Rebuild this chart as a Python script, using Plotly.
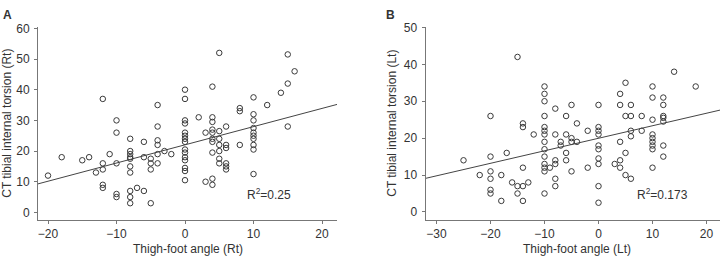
import plotly.graph_objects as go

# ---------------- Panel A (Right) ----------------
a_x = [-20, -18, -15, -14, -13, -12, -12, -12, -12, -12, -11,
       -10, -10, -10, -10, -10,
       -8, -8, -8, -8, -8, -8, -8, -8, -8, -8,
       -7, -6, -6, -6, -5, -5, -5, -5,
       -4, -4, -4, -4, -4, -4, -3, -2,
       0, 0, 0, 0, 0, 0, 0, 0, 0, 0, 0, 0, 0, 0, 0,
       2, 3, 3, 4, 4, 4, 4, 4, 4, 4, 4, 4, 4,
       5, 5, 5, 5, 5, 5, 5,
       6, 6, 6, 6, 6, 6, 8, 8, 8,
       10, 10, 10, 10, 10, 10, 10, 10, 10, 10,
       12, 14, 15, 15, 15, 16]
a_y = [12, 18, 17, 18, 13, 37, 16, 14, 9, 8, 19,
       30, 26, 16, 6, 5,
       24, 20, 19, 18, 17.5, 15, 13, 7, 5, 3,
       8, 23, 18, 7, 17.5, 16, 14, 3,
       35, 28, 23.5, 22, 19, 16, 20, 19,
       40, 37, 30, 29, 26, 25, 24, 23, 20.5, 19.5, 18, 17, 14.5, 13.5, 10.5,
       31, 26, 10, 41, 31, 29.5, 27, 26, 24, 23, 19.5, 11, 9,
       52, 26.5, 24, 22, 20, 17.5, 16,
       28, 22, 21, 16, 15, 14, 34, 33, 22,
       37.5, 32, 30, 27.5, 26, 25, 24, 22, 20.5, 12.5,
       35, 39, 51.5, 42, 28, 46]
a_fit_x = [-21.46, 22.19]
a_fit_y = [9.3, 35.2]

# ---------------- Panel B (Left) ----------------
b_x = [-25, -22, -20, -20, -20, -20, -20, -20, -18, -18, -17, -16,
       -15, -15, -15, -14, -14, -14, -14, -14, -13, -12,
       -10, -10, -10, -10, -10, -10, -10, -10, -10, -10, -10, -10, -10, -10,
       -9, -8, -8, -8, -8, -8, -8,
       -7, -7, -6, -6, -6, -6, -5, -5, -5, -5, -4, -4, -2, -2,
       0, 0, 0, 0, 0, 0, 0, 0, 0, 0,
       3, 4, 4, 4, 4, 4, 5, 5, 5, 5,
       6, 6, 6, 6, 6, 8, 8,
       10, 10, 10, 10, 10, 10, 10, 10, 10,
       12, 12, 12, 12, 12, 12, 12, 14, 18]
b_y = [14, 10, 26, 15, 11, 9, 6, 5, 10, 3, 16, 8,
       42, 7, 5, 24, 23, 12, 7, 3, 8, 21,
       34, 32, 30, 26, 23, 22, 21, 19, 17, 15, 13, 12, 11, 5,
       12, 28, 21, 14, 13, 9, 7,
       19, 18, 26, 21, 16, 14, 29, 20, 19, 11, 24, 19, 22, 12,
       29, 23, 22, 21, 18, 17, 14.5, 13, 7, 2.5,
       13, 32, 29, 19, 14, 12, 35, 26, 16, 10,
       29, 26, 22, 20.5, 9, 26, 22,
       34, 31, 25, 21, 20, 19, 18, 17, 12,
       31, 29, 26, 25.5, 24.5, 18, 15, 38, 34]
b_fit_x = [-32.04, 22.5]
b_fit_y = [9.1, 27.6]

FONT = "Liberation Sans, Arial, Helvetica, sans-serif"
TXT = "#333333"
AX = "#777777"
MK = "#3a3a3a"

fig = go.Figure()

def add_panel(xs, ys, fx, fy, xa, ya):
    fig.add_trace(go.Scatter(x=xs, y=ys, mode="markers", xaxis=xa, yaxis=ya,
                             marker=dict(symbol="circle-open", size=5.5,
                                         color=MK, line=dict(width=1, color=MK)),
                             hoverinfo="skip", showlegend=False))
    fig.add_trace(go.Scatter(x=fx, y=fy, mode="lines", xaxis=xa, yaxis=ya,
                             line=dict(color="#444444", width=1),
                             hoverinfo="skip", showlegend=False))

add_panel(a_x, a_y, a_fit_x, a_fit_y, "x", "y")
add_panel(b_x, b_y, b_fit_x, b_fit_y, "x2", "y2")

W, H = 727, 259
ydom = [1 - 219 / H, 1 - 21 / H]

axis_common = dict(showline=True, linecolor=AX, linewidth=1, ticks="outside",
                   ticklen=3, tickcolor=AX, tickwidth=1, showgrid=False,
                   zeroline=False, tickfont=dict(family=FONT, size=12, color=TXT))

fig.update_layout(
    width=W, height=H, margin=dict(l=0, r=0, t=0, b=0),
    paper_bgcolor="white", plot_bgcolor="white",
    xaxis=dict(domain=[38 / W, 337 / W], range=[-21.46, 22.19],
               tickvals=[-20, -10, 0, 10, 20], anchor="y", **axis_common),
    yaxis=dict(domain=ydom, range=[-2.5, 60.3], tickvals=[0, 10, 20, 30, 40, 50, 60],
               anchor="x", ticklabelstandoff=2, **axis_common),
    xaxis2=dict(domain=[425.5 / W, 720 / W], range=[-32.04, 22.5],
                tickvals=[-30, -20, -10, 0, 10, 20], anchor="y2", **axis_common),
    yaxis2=dict(domain=ydom, range=[-2.2, 50], tickvals=[0, 10, 20, 30, 40, 50],
                anchor="x2", ticklabelstandoff=2, **axis_common),
)

def ann(text, px, py, size=12, bold=False, angle=0, xanchor="center"):
    fig.add_annotation(text=("<b>%s</b>" % text) if bold else text,
                       x=px / W, y=1 - py / H, xref="paper", yref="paper",
                       showarrow=False, xanchor=xanchor, yanchor="middle",
                       textangle=angle,
                       font=dict(family=FONT, size=size, color=TXT))

ann("A", 1, 8, size=12, bold=True, xanchor="left")
ann("B", 384, 8, size=12, bold=True, xanchor="left")
ann("Thigh-foot angle (Rt)", 188, 249)
ann("Thigh-foot angle (Lt)", 577, 249)
ann("CT tibial internal torsion (Rt)", 7, 120, angle=-90)
ann("CT tibial internal torsion (Lt)", 392, 120, angle=-90)

fig.add_annotation(text="R<sup>2</sup>=0.25", x=12.3, y=6.0, xref="x", yref="y",
                   showarrow=False, font=dict(family=FONT, size=12, color=TXT))
fig.add_annotation(text="R<sup>2</sup>=0.173", x=11.9, y=4.8, xref="x2", yref="y2",
                   showarrow=False, font=dict(family=FONT, size=12, color=TXT))

fig.write_html("out.html")
